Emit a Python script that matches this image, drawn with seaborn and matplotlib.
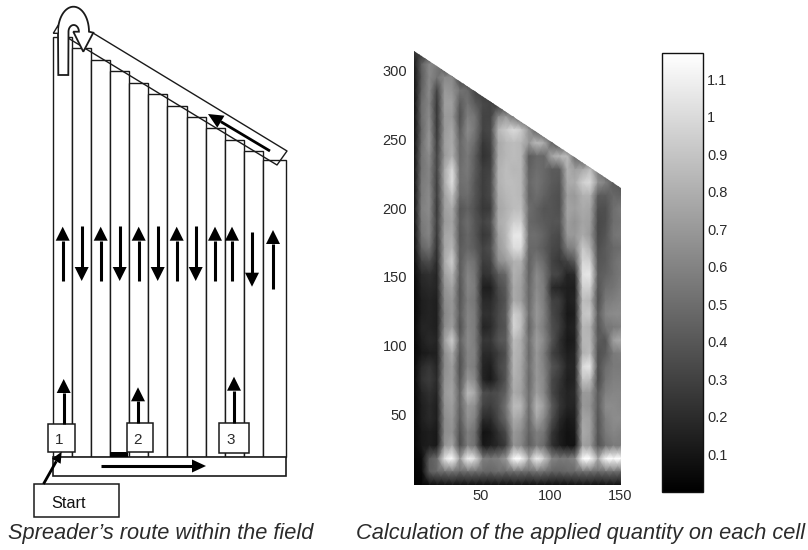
import numpy as np
import pandas as pd
import matplotlib
matplotlib.use("Agg")
import matplotlib.pyplot as plt
from matplotlib.patches import Polygon, Rectangle
import seaborn as sns

NA = np.nan

# applied quantity in hundredths of quantity_unit, one list per row, top of the field first
rows_top = [
    [18, 16, 14] + [NA] * 25,
    [8, 32, 45, 40, 22, 18] + [NA] * 22,
    [6, 30, 45, 38, 45, 45, 22, 18] + [NA] * 20,
    [5, 32, 46, 22, 50, 48, 38, 35, 22, 20, 16] + [NA] * 17,
    [4, 36, 44, 18, 52, 52, 30, 38, 30, 24, 22, 18, 15] + [NA] * 15,
    [4, 36, 46, 18, 50, 50, 26, 42, 38, 22, 22, 45, 50, 38, 30, 24] + [NA] * 12,
    [4, 34, 48, 18, 50, 55, 30, 46, 38, 22, 24, 60, 66, 72, 66, 48, 30, 24, 22] + [NA] * 9,
    [5, 36, 50, 20, 52, 56, 34, 42, 34, 18, 22, 55, 60, 62, 60, 50, 62, 56, 32, 26, 22] + [NA] * 7,
    [5, 38, 46, 22, 50, 58, 34, 40, 30, 16, 20, 56, 60, 62, 60, 30, 34, 34, 55, 60, 62, 34, 28, 24] + [NA] * 4,
    [5, 38, 44, 22, 56, 72, 36, 40, 30, 20, 22, 58, 62, 60, 60, 32, 36, 34, 30, 30, 58, 52, 55, 62, 40, 28] + [NA] * 2,
]
rows_mid = [
    [5, 40, 44, 20, 56, 74, 36, 38, 28, 20, 24, 58, 62, 62, 60, 34, 38, 34, 30, 28, 56, 56, 68, 72, 48, 42, 30, 28],
    [5, 40, 46, 20, 52, 64, 34, 36, 28, 20, 24, 56, 60, 62, 60, 32, 36, 32, 28, 26, 52, 50, 58, 58, 30, 30, 34, 32],
    [5, 42, 46, 18, 52, 56, 28, 32, 26, 18, 20, 54, 58, 62, 62, 36, 32, 28, 28, 26, 54, 52, 56, 54, 26, 26, 36, 40],
    [5, 40, 44, 20, 50, 54, 30, 36, 28, 22, 26, 56, 60, 68, 68, 34, 32, 30, 28, 28, 52, 48, 54, 52, 24, 26, 36, 38],
    [4, 38, 44, 18, 54, 56, 28, 34, 28, 18, 22, 52, 60, 76, 76, 36, 36, 32, 26, 24, 50, 50, 56, 50, 24, 28, 38, 40],
    [4, 32, 38, 16, 54, 60, 30, 34, 30, 22, 26, 50, 58, 72, 72, 34, 34, 30, 24, 22, 40, 44, 66, 58, 26, 30, 34, 36],
    [3, 22, 26, 14, 56, 68, 30, 40, 36, 20, 22, 46, 50, 58, 58, 32, 40, 34, 22, 18, 22, 30, 70, 68, 28, 30, 36, 40],
    [3, 14, 16, 12, 52, 60, 30, 44, 38, 16, 18, 30, 34, 58, 54, 32, 46, 38, 24, 22, 12, 14, 74, 76, 30, 32, 36, 40],
]
rows_low = [
    [2, 12, 14, 12, 48, 54, 28, 44, 40, 10, 10, 24, 30, 56, 52, 34, 46, 40, 14, 12, 10, 10, 68, 68, 28, 36, 38, 42],
    [2, 10, 12, 10, 46, 50, 28, 42, 38, 14, 14, 22, 28, 56, 52, 34, 48, 40, 22, 20, 10, 12, 62, 60, 26, 40, 42, 44],
    [2, 10, 12, 10, 44, 50, 30, 44, 40, 16, 16, 24, 30, 68, 62, 36, 50, 42, 24, 18, 8, 10, 64, 66, 30, 44, 46, 46],
    [2, 12, 12, 10, 46, 52, 26, 44, 40, 12, 14, 24, 28, 70, 62, 32, 48, 40, 26, 20, 10, 12, 60, 58, 28, 38, 40, 42],
    [2, 10, 14, 12, 52, 68, 32, 46, 40, 18, 18, 28, 30, 62, 56, 36, 52, 44, 28, 16, 8, 10, 60, 60, 30, 28, 52, 56],
    [2, 8, 10, 10, 46, 56, 28, 44, 42, 14, 14, 20, 26, 60, 56, 34, 50, 40, 22, 16, 10, 12, 58, 62, 26, 30, 40, 42],
    [2, 14, 18, 12, 46, 52, 26, 44, 40, 12, 10, 22, 28, 60, 54, 36, 50, 42, 28, 22, 12, 12, 72, 76, 26, 36, 40, 40],
    [2, 16, 20, 14, 48, 52, 28, 50, 44, 12, 8, 18, 28, 58, 54, 34, 50, 44, 24, 18, 10, 12, 64, 62, 24, 38, 42, 42],
    [2, 12, 16, 12, 50, 54, 32, 62, 54, 26, 24, 26, 32, 56, 52, 36, 52, 44, 24, 16, 12, 14, 50, 50, 30, 42, 44, 44],
    [2, 10, 14, 10, 48, 52, 32, 50, 46, 22, 20, 26, 38, 62, 60, 36, 60, 50, 30, 18, 12, 12, 50, 48, 30, 46, 46, 44],
    [2, 10, 14, 10, 46, 50, 30, 48, 42, 14, 14, 24, 34, 56, 52, 34, 54, 44, 26, 14, 8, 10, 54, 52, 28, 42, 46, 46],
    [2, 8, 10, 8, 46, 48, 26, 42, 36, 6, 8, 16, 24, 50, 46, 32, 42, 38, 18, 10, 6, 8, 56, 52, 28, 40, 44, 42],
    [2, 8, 10, 8, 48, 54, 24, 42, 36, 8, 10, 14, 20, 48, 44, 30, 40, 34, 16, 10, 6, 6, 52, 50, 26, 36, 40, 40],
    [1, 4, 30, 35, 75, 98, 50, 80, 72, 42, 40, 42, 50, 84, 82, 55, 80, 66, 44, 40, 40, 44, 90, 88, 55, 82, 85, 85],
    [1, 3, 30, 34, 36, 38, 34, 36, 36, 34, 33, 36, 34, 36, 36, 34, 38, 36, 32, 32, 34, 34, 36, 36, 34, 36, 36, 34],
    [1, 1, 4, 5, 5, 6, 5, 6, 5, 5, 5, 6, 5, 6, 6, 5, 6, 5, 5, 5, 5, 6, 6, 6, 5, 6, 6, 5],
]
quantity_unit = 1.4

x_ticks = [50, 100, 150]
y_ticks = [50, 100, 150, 200, 250, 300]
cbar_ticks = [0.1, 0.2, 0.3, 0.4, 0.5, 0.6, 0.7, 0.8, 0.9, 1, 1.1]
cbar_labels = ["0.1", "0.2", "0.3", "0.4", "0.5", "0.6", "0.7", "0.8", "0.9", "1", "1.1"]
x_range = (2.5, 150.5)
y_range = (-1, 314)
q_max = 1.17

# route diagram, measured in picture pixels
strip_edges = [53.3, 72.3, 91.3, 110.3, 129.3, 148.3, 167.3, 186.5, 205.5, 224.7, 243.8, 263, 285.7]
strip_tops = [37.3, 48.3, 60, 71.3, 82.7, 94.3, 106, 117, 128, 140, 151, 160.3]
strip_bottom = 456.7
up_x = [62.7, 100.7, 138.7, 176.7, 215, 232]
up_y = (281, 226.7)
down_x = [81.7, 119.7, 157.7, 195.7]
down_y = (226, 281)

WIDTH, HEIGHT = 808, 550
TXT = "#2b2b2b"

sns.set_theme(style="white")
plt.rcParams["font.family"] = ["Liberation Sans", "DejaVu Sans"]

fig = plt.figure(figsize=(WIDTH / 100, HEIGHT / 100), dpi=100, facecolor="white")


def px_axes(left, top, right, bottom):
    return fig.add_axes([left / WIDTH, 1 - bottom / HEIGHT, (right - left) / WIDTH, (bottom - top) / HEIGHT])


# field map; cells outside the field are cut off by the clip path below
quantity = pd.DataFrame(rows_top + rows_mid + rows_low, dtype=float).bfill() / 100 * quantity_unit
n_rows, n_cols = quantity.shape
ax = px_axes(414, 51, 621, 485)
cax = px_axes(662, 53, 703, 492)
sns.heatmap(quantity, ax=ax, cbar_ax=cax, cmap="gray", vmin=0, vmax=q_max, shading="gouraud",
            xticklabels=False, yticklabels=False)
ax.set_xlim(0, n_cols - 1)
ax.set_ylim(n_rows - 1, 0)
mesh = ax.collections[0]
edge_row = (188 - 51) / (434 / (n_rows - 1))
mesh.set_clip_path(Polygon([(0, 0), (n_cols - 1, edge_row), (n_cols - 1, n_rows - 1), (0, n_rows - 1)],
                           transform=ax.transData))
ax.set_xticks([(v - x_range[0]) / (x_range[1] - x_range[0]) * (n_cols - 1) for v in x_ticks])
ax.set_xticklabels(x_ticks, rotation=0)
ax.set_yticks([(y_range[1] - v) / (y_range[1] - y_range[0]) * (n_rows - 1) for v in y_ticks])
ax.set_yticklabels(y_ticks, rotation=0)
ax.tick_params(length=0, labelsize=10.5, labelcolor=TXT, pad=5)
ax.tick_params(axis="x", pad=3)
for s in ax.spines.values():
    s.set_visible(False)

# colorbar
cbar = mesh.colorbar
cbar.outline.set_linewidth(1.0)
cbar.outline.set_edgecolor("#111111")
cbar.set_ticks(cbar_ticks)
cbar.set_ticklabels(cbar_labels)
cax.tick_params(axis="y", which="major", direction="in", left=True, right=True, length=4, width=0.8,
                color="#333333", labelsize=10.5, labelcolor=TXT, pad=3)

# route diagram on a pixel overlay
ov = fig.add_axes([0, 0, 1, 1], facecolor="none")
ov.set_xlim(0, WIDTH)
ov.set_ylim(HEIGHT, 0)
ov.axis("off")
LINE = "#1a1a1a"


def arrow(x0, y0, x1, y1, head_w=13, head_l=14, lw=2.2):
    d = np.array([x1 - x0, y1 - y0], dtype=float)
    d /= np.hypot(*d)
    n = np.array([-d[1], d[0]])
    tip = np.array([x1, y1])
    base = tip - d * head_l
    ov.plot([x0, base[0]], [y0, base[1]], color="black", lw=lw, solid_capstyle="butt", zorder=6)
    ov.add_patch(Polygon([tip, base + n * head_w / 2, base - n * head_w / 2], color="black", lw=0, zorder=6))


for i, top in enumerate(strip_tops):
    ov.add_patch(Rectangle((strip_edges[i], top), strip_edges[i + 1] - strip_edges[i], strip_bottom - top,
                           fc="white", ec=LINE, lw=1.0, zorder=1))

# turning tape along the slanted edge
ov.plot([93, 287, 277, 68], [33, 151, 165, 38], color=LINE, lw=1.0, zorder=2)
arrow(270, 151, 208, 114, head_w=14, head_l=15, lw=2)

# U-turn outline: stem, outer arc, head, inner arc
ang = np.linspace(np.pi, 0, 30)
outer = np.c_[73.5 + 15.5 * np.cos(ang), 31.7 - 25 * np.sin(ang)]
inner = np.c_[73.7 + 5.2 * np.cos(ang[::-1]), 31.7 - 6.7 * np.sin(ang[::-1])]
uturn = [(58.3, 75)] + outer.tolist() + [(93.3, 32.7), (83.3, 51.7), (73.3, 31.7)] + inner.tolist() + [(68.5, 31.7), (68.3, 75)]
ov.add_patch(Polygon(uturn, closed=True, fc="white", ec=LINE, lw=1.3, zorder=3))
ov.add_patch(Polygon([(53.3, 33.3), (58.3, 25), (58.3, 33.3)], closed=True, fc="white", ec=LINE, lw=1.0, zorder=3))

# bottom headland
ov.add_patch(Rectangle((53.3, strip_bottom), 232.4, 19.3, fc="white", ec=LINE, lw=1.2, zorder=2))
ov.add_patch(Rectangle((110, 452), 18, 4.7, fc="black", lw=0, zorder=2))
arrow(100.7, 466, 206, 466, head_w=13, head_l=14, lw=2.2)

for x in up_x:
    arrow(x, up_y[0], x, up_y[1], head_w=14, head_l=14, lw=2.2)
for x in down_x:
    arrow(x, down_y[0], x, down_y[1], head_w=14, head_l=14, lw=2.2)
arrow(252, 231.7, 252, 286.7, head_w=14, head_l=14, lw=2.2)
arrow(273, 289, 273, 230, head_w=14, head_l=14, lw=2.2)

# spreader boxes, the digits in 1 and 2 are cut off at the bottom
boxes = [(47.7, 424.3, 27.6, 27.7, "1", 59, True), (127.3, 422.7, 26, 29, "2", 138, True),
         (219.3, 423.3, 29.4, 30, "3", 230.7, False)]
for x, y, w, h, label, tx, cut in boxes:
    ov.add_patch(Rectangle((x, y), w, h, fc="white", ec=LINE, lw=1.1, zorder=4))
    ov.text(tx, 440, label, ha="center", va="center", fontsize=11, color=TXT, zorder=5)
    if cut:
        ov.add_patch(Rectangle((x + 2, 443.5), w - 4, 7, fc="white", lw=0, zorder=5.5))
arrow(63.7, 424.3, 63.7, 379, head_w=14, head_l=14, lw=2.2)
arrow(138, 422.7, 138, 387.3, head_w=14, head_l=14, lw=2.2)
arrow(234, 422.7, 234, 376.7, head_w=14, head_l=14, lw=2.2)

# start box
ov.add_patch(Rectangle((34, 484), 84.7, 32.7, fc="white", ec=LINE, lw=1.1, zorder=4))
ov.text(69, 503, "Start", ha="center", va="center", fontsize=11.7, color="#111111", zorder=5)
arrow(43.5, 484, 61.7, 451.7, head_w=10, head_l=11, lw=2)

# captions
ov.text(8, 534, "Spreader\u2019s route within the field", ha="left", va="center",
        fontsize=15.7, style="italic", color=TXT)
ov.text(356, 534, "Calculation of the applied quantity on each cell", ha="left", va="center",
        fontsize=15.7, style="italic", color=TXT)

fig.savefig("out.png", dpi=100)
